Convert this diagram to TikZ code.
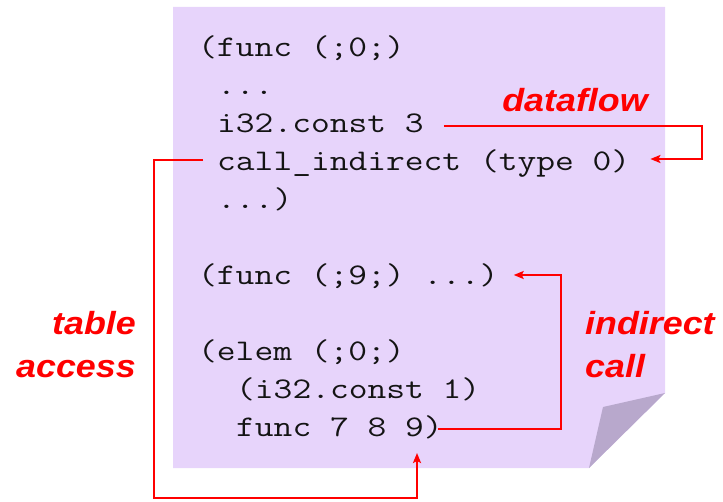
\documentclass[tikz,border=0pt]{standalone}
\usepackage{fontspec}
\usepackage{graphicx}
\newfontfamily\lblfont[FakeStretch=1.12]{Liberation Sans}
\usetikzlibrary{arrows.meta,calc}
\definecolor{notefill}{RGB}{231,212,251}
\definecolor{foldfill}{RGB}{184,168,204}
\definecolor{codeink}{RGB}{20,20,20}
\newcommand{\cln}[1]{\scalebox{1.215}[1]{#1}}
\tikzset{
  code/.style={inner sep=0pt, anchor=base west, text=codeink,
    font=\ttfamily\fontsize{30}{38}\selectfont},
  lbl/.style={inner sep=0pt, text=red,
    font=\lblfont\bfseries\itshape\fontsize{32}{43}\selectfont},
  flow/.style={draw=red, line width=2pt, -{Stealth[length=10pt,width=8pt,inset=2pt]}},
}
\begin{document}
\begin{tikzpicture}[x=1pt,y=-1pt]
\useasboundingbox (0,0) rectangle (723,502);
% note body and fold
\fill[notefill] (173,7) -- (665,7) -- (665,393) -- (589,468) -- (173,468) -- cycle;
\fill[foldfill] (665,393) -- (603,407) -- (589,468) -- cycle;
% code lines
\node[code] (c1) at (198,57) {\cln{(func (;0;)}};
\node[code] (c2) at (217,95) {\cln{...}};
\node[code] (c3) at (217,133) {\cln{i32.const 3}};
\node[code] (c4) at (217,171) {\cln{call\_indirect (type 0)}};
\node[code] (c5) at (217,209) {\cln{...)}};
\node[code] (c6) at (198,285) {\cln{(func (;9;) ...)}};
\node[code] (c7) at (198,361) {\cln{(elem (;0;)}};
\node[code] (c8) at (236,399) {\cln{(i32.const 1)}};
\node[code] (c9) at (236,437) {\cln{func 7 8 9)}};
% labels
\node[lbl, anchor=base] (df) at (575,112) {dataflow};
\node[lbl, align=right, anchor=east] (ta) at (136,345) {table\\access};
\node[lbl, align=left, anchor=west] (ic) at (585,345) {indirect\\call};
% connectors
\coordinate (dfS) at ($(c3.base east)+(20,-7)$);
\coordinate (dfT) at ($(c4.base east)+(20,-12)$);
\draw[flow] (dfS) -- ++(258,0) |- (dfT);
\coordinate (taS) at ($(c4.base west)+(-14,-11)$);
\coordinate (taT) at ($(c9.base west)+(181,16)$);
\draw[flow] (taS) -| ($(taT)+(-263,45)$) -| (taT);
\coordinate (icS) at ($(c9.base east)+(-5,-8)$);
\coordinate (icT) at ($(c6.base east)+(15,-10)$);
\draw[flow] (icS) -| ($(icT)+(47,0)$) -- (icT);
\end{tikzpicture}
\end{document}
